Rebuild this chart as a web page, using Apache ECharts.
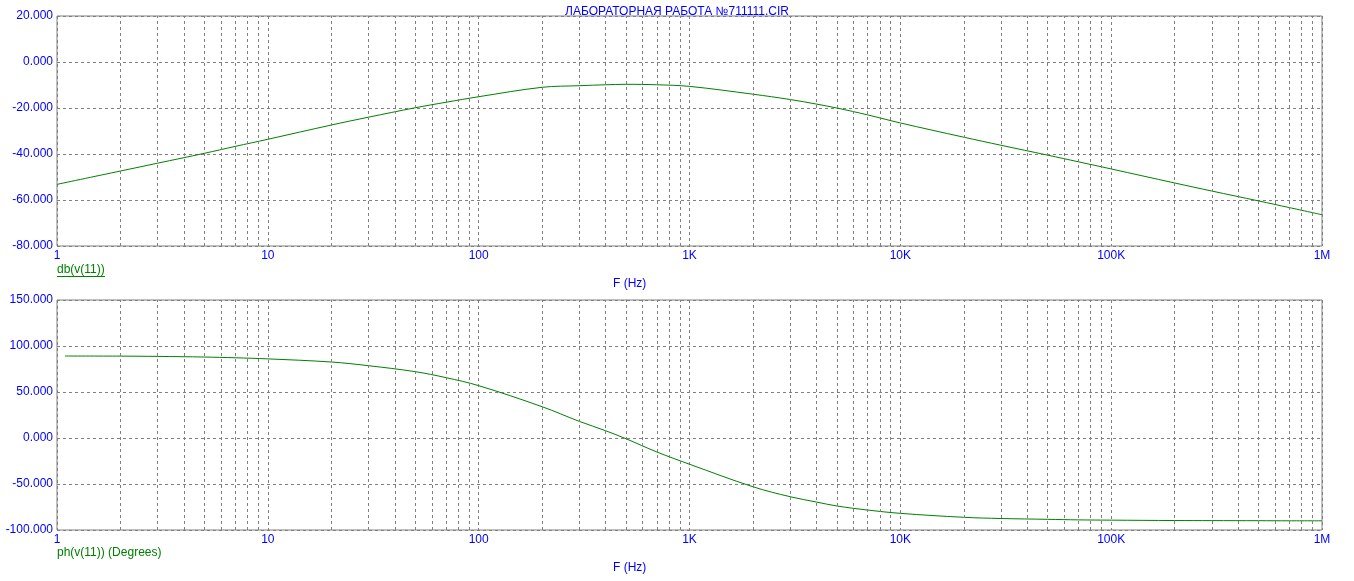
<!DOCTYPE html>
<html>
<head>
<meta charset="utf-8">
<script src="https://cdn.jsdelivr.net/npm/echarts@6/dist/echarts.min.js"></script>
<style>
html,body{margin:0;padding:0;background:#fff;}
#chart{width:1354px;height:581px;}
</style>
</head>
<body>
<div id="chart"></div>
<script>
// ---- data ----
const title = 'ЛАБОРАТОРНАЯ РАБОТА №711111.CIR';
const freqs = [1,2,3,5,7,10,20,30,50,70,100,200,300,400,500,700,1000,2000,3000,4000,5000,7000,10000,20000,30000,50000,70000,100000,200000,300000,500000,700000,1000000];
const magDb = [-53.2,-47.4,-44.0,-39.7,-36.7,-33.6,-27.4,-24.0,-19.9,-17.5,-15.1,-11.0,-10.3,-9.9,-9.7,-9.9,-10.6,-14.0,-16.3,-18.3,-20.0,-23.0,-26.5,-32.7,-36.2,-40.5,-43.4,-46.5,-52.6,-56.1,-60.4,-63.3,-66.4];
const phaseFreqs = [1.09,2,3,5,7,10,20,30,50,70,100,200,300,400,500,700,1000,2000,3000,4000,5000,7000,10000,20000,30000,50000,70000,100000,200000,300000,500000,700000,1000000];
const phaseDeg = [89.1,89.0,88.7,88.0,87.2,86.0,82.6,78.6,72.1,65.6,56.9,34.0,18.1,7.9,-0.8,-15.2,-28.5,-53.0,-63.8,-69.6,-73.9,-78.3,-81.9,-86.2,-87.5,-88.4,-89.0,-89.3,-89.7,-89.8,-89.9,-90.0,-90.0];
const xTickLabels = {1:'1',10:'10',100:'100',1000:'1K',10000:'10K',100000:'100K',1000000:'1M'};
const minorGridFreqs = [];
[1,10,100,1000,10000,100000].forEach(d => { for (let m = 2; m <= 9; m++) minorGridFreqs.push(d * m); });
const magLabel = 'db(v(11))';
const phaseLabel = 'ph(v(11)) (Degrees)';
const xName = 'F (Hz)';

// ---- styles ----
const BLUE = '#0000ff', GREEN = '#008000', GRAY = '#808080';
const FONT = 'Liberation Sans, Arial, sans-serif';
const dash = {type:[3,3], color:GRAY, width:1};

function xAxisCfg(gridIndex){
  return {
    type:'log', logBase:10, gridIndex, min:1, max:1000000,
    axisLine:{show:false}, axisTick:{show:false},
    splitLine:{show:true, lineStyle:dash},
    axisLabel:{color:BLUE, fontSize:12, fontFamily:FONT, margin:4,
      formatter: v => xTickLabels[Math.round(v)] || ''}
  };
}
function yAxisCfg(gridIndex, min, max, interval){
  return {
    type:'value', gridIndex, min, max, interval,
    axisLine:{show:false}, axisTick:{show:false},
    splitLine:{show:true, lineStyle:dash},
    axisLabel:{color:BLUE, fontSize:12, fontFamily:FONT, margin:4,
      formatter: v => v.toFixed(3)}
  };
}
const minorLines = {
  silent:true, symbol:['none','none'], animation:false,
  label:{show:false}, emphasis:{disabled:true},
  lineStyle:dash,
  data: minorGridFreqs.map(f => ({xAxis:f}))
};

const chart = echarts.init(document.getElementById('chart'), null, {renderer:'canvas'});
chart.setOption({
  animation:false,
  backgroundColor:'#fff',
  title:{text:title, left:'center', top:1, itemGap:0,
    textStyle:{color:BLUE, fontSize:12, fontWeight:'normal', fontFamily:FONT}},
  grid:[
    {left:57, top:16, width:1265, height:230, show:true, borderColor:GRAY, borderWidth:1},
    {left:57, top:300, width:1265, height:230, show:true, borderColor:GRAY, borderWidth:1}
  ],
  xAxis:[xAxisCfg(0), xAxisCfg(1)],
  yAxis:[yAxisCfg(0,-80,20,20), yAxisCfg(1,-100,150,50)],
  series:[
    {type:'line', xAxisIndex:0, yAxisIndex:0, data:freqs.map((f,i)=>[f,magDb[i]]),
      showSymbol:false, smooth:0.35, lineStyle:{color:GREEN, width:1}, itemStyle:{color:GREEN},
      markLine:minorLines, z:3},
    {type:'line', xAxisIndex:1, yAxisIndex:1, data:phaseFreqs.map((f,i)=>[f,phaseDeg[i]]),
      showSymbol:false, smooth:0.35, lineStyle:{color:GREEN, width:1}, itemStyle:{color:GREEN},
      markLine:minorLines, z:3}
  ],
  graphic:[
    {type:'text', x:57, y:264, style:{text:magLabel, fill:GREEN, font:'12px '+FONT}},
    {type:'line', shape:{x1:57,y1:276.5,x2:105,y2:276.5}, style:{stroke:GREEN, lineWidth:1}},
    {type:'text', x:613, y:278, style:{text:xName, fill:BLUE, font:'12px '+FONT}},
    {type:'text', x:57, y:547, style:{text:phaseLabel, fill:GREEN, font:'12px '+FONT}},
    {type:'text', x:613, y:562, style:{text:xName, fill:BLUE, font:'12px '+FONT}}
  ]
});
</script>
</body>
</html>
